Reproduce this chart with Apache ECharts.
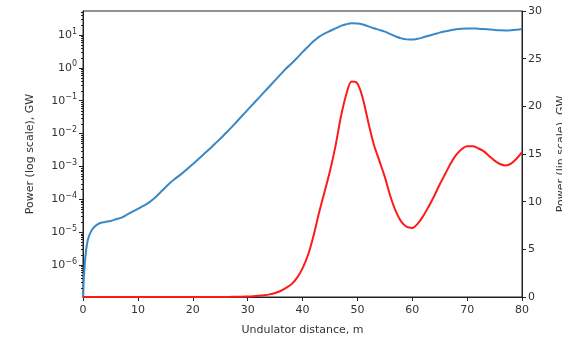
<!DOCTYPE html>
<html>
<head>
<meta charset="utf-8">
<script src="https://cdn.jsdelivr.net/npm/echarts@6/dist/echarts.min.js"></script>
<style>
  html, body { margin: 0; padding: 0; background: #fff; }
  #chart { width: 562px; height: 340px; }
</style>
</head>
<body>
<div id="chart"></div>
<script>
// Undulator distance (m) and radiated power (GW) along it
const distance = [0, 0.1, 0.25, 0.5, 0.75, 1, 1.5, 2, 3, 4, 5, 6, 7, 8, 9, 10,
  11, 12, 13, 14, 15, 16, 17, 18, 19, 20, 21, 22, 23, 24, 25, 26, 27, 28, 29, 30,
  31, 32, 33, 34, 35, 36, 37, 38, 39, 40, 41, 42, 43, 44, 45, 46, 47, 48, 49, 50,
  51, 52, 53, 54, 55, 56, 57, 58, 59, 60, 61, 62, 63, 64, 65, 66, 67, 68, 69, 70,
  71, 72, 73, 74, 75, 76, 77, 78, 79, 80];
const power = [3e-8, 2.5e-7, 7.1e-7, 2.24e-6, 4.5e-6, 6.8e-6, 1.07e-5, 1.41e-5, 1.86e-5, 2.04e-5,
  2.19e-5, 2.45e-5, 2.75e-5, 3.39e-5, 4.17e-5, 5.13e-5,
  6.31e-5, 7.94e-5, 1.07e-4, 1.55e-4, 2.29e-4, 3.31e-4, 4.47e-4, 6.03e-4, 8.32e-4, 1.17e-3,
  1.66e-3, 2.34e-3, 3.31e-3, 4.79e-3, 6.92e-3, 1.02e-2, 1.51e-2, 2.29e-2, 3.47e-2, 5.25e-2,
  7.94e-2, 0.120, 0.182, 0.275, 0.417, 0.631, 0.955, 1.35, 2.0, 3.0,
  4.4, 6.4, 8.8, 11.0, 13.2, 15.8, 18.9, 21.3, 22.6, 22.4,
  20.8, 18.3, 16.0, 14.3, 12.6, 10.6, 9.0, 7.9, 7.35, 7.25,
  7.7, 8.5, 9.5, 10.6, 11.8, 12.9, 14.0, 14.9, 15.5, 15.8,
  15.8, 15.6, 15.3, 14.8, 14.3, 13.95, 13.8, 14.0, 14.5, 15.2];

// Axis ticks
const xTicks = [0, 10, 20, 30, 40, 50, 60, 70, 80];
const logExponents = [-6, -5, -4, -3, -2, -1, 0, 1];
const linTicks = [0, 5, 10, 15, 20, 25, 30];
const logRange = [1.06e-7, 53.7];

const FONT = 'DejaVu Sans';
const INK = '#222';
const TEXT = '#333';
const sup = n => String(n).replace('-', '\u2212');

const points = distance.map((d, i) => [d, power[i]]);

const chart = echarts.init(document.getElementById('chart'), null, { renderer: 'canvas' });

chart.setOption({
  animation: false,
  backgroundColor: '#fff',
  textStyle: { fontFamily: FONT },
  grid: {
    left: 83, right: 40, top: 11, bottom: 43,
    outerBoundsMode: 'none', containLabel: false,
    show: true, borderColor: INK, borderWidth: 1, backgroundColor: 'transparent'
  },
  xAxis: {
    type: 'value',
    min: xTicks[0], max: xTicks[xTicks.length - 1], interval: 10,
    name: 'Undulator distance, m',
    nameLocation: 'middle', nameGap: 28,
    nameTextStyle: { fontFamily: FONT, fontSize: 11, color: TEXT },
    axisLine: { show: true, onZero: false, lineStyle: { color: INK, width: 1 } },
    axisTick: { show: true, inside: false, length: 4, lineStyle: { color: INK } },
    axisLabel: { fontFamily: FONT, fontSize: 11, color: TEXT, margin: 8 },
    splitLine: { show: false }
  },
  yAxis: [
    {
      type: 'log', logBase: 10,
      min: logRange[0], max: logRange[1],
      position: 'left',
      name: 'Power (log scale), GW',
      nameLocation: 'middle', nameRotate: 90, nameGap: 47,
      nameTextStyle: { fontFamily: FONT, fontSize: 11, color: TEXT },
      axisLine: { show: true, onZero: false, lineStyle: { color: INK, width: 1 } },
      axisTick: { show: true, length: 4, lineStyle: { color: INK } },
      axisLabel: {
        fontFamily: FONT, fontSize: 11, color: TEXT, margin: 6,
        showMinLabel: false, showMaxLabel: false,
        formatter: v => {
          const e = Math.log10(v);
          const r = Math.round(e);
          if (Math.abs(e - r) > 0.01 || logExponents.indexOf(r) < 0) return '';
          return '{b|10}{e|' + sup(r) + '}';
        },
        rich: {
          b: { fontFamily: FONT, fontSize: 11, color: TEXT },
          e: { fontFamily: FONT, fontSize: 8, color: TEXT, padding: [0, 0, 7, 0] }
        }
      },
      splitLine: { show: false }
    },
    {
      type: 'value',
      min: linTicks[0], max: linTicks[linTicks.length - 1], interval: 5,
      position: 'right',
      name: 'Power (lin scale), GW',
      nameLocation: 'middle', nameRotate: 90, nameGap: 34,
      nameTextStyle: { fontFamily: FONT, fontSize: 11, color: TEXT },
      axisLine: { show: true, onZero: false, lineStyle: { color: INK, width: 1 } },
      axisTick: { show: true, length: 4, lineStyle: { color: INK } },
      axisLabel: { fontFamily: FONT, fontSize: 11, color: TEXT, margin: 6 },
      splitLine: { show: false }
    }
  ],
  series: [
    {
      name: 'log', type: 'line', yAxisIndex: 0,
      data: points, showSymbol: false, smooth: 0.35, clip: true,
      lineStyle: { color: '#3a88c6', width: 2 }
    },
    {
      name: 'lin', type: 'line', yAxisIndex: 1,
      data: points, showSymbol: false, smooth: 0.35, clip: true,
      lineStyle: { color: '#ff1a1a', width: 2 }
    }
  ]
});

// Minor ticks of the log axis at 2..9 x 10^n
const minor = [];
const x0 = chart.convertToPixel({ xAxisIndex: 0 }, 0);
for (let e = -7; e <= 1; e++) {
  for (let m = 2; m <= 9; m++) {
    const v = m * Math.pow(10, e);
    if (v <= logRange[0] || v >= logRange[1]) continue;
    const y = Math.round(chart.convertToPixel({ yAxisIndex: 0 }, v)) + 0.5;
    minor.push({
      type: 'line', silent: true, z: 10,
      shape: { x1: x0 - 2, y1: y, x2: x0, y2: y },
      style: { stroke: INK, lineWidth: 1 }
    });
  }
}
chart.setOption({ graphic: minor });
</script>
</body>
</html>
